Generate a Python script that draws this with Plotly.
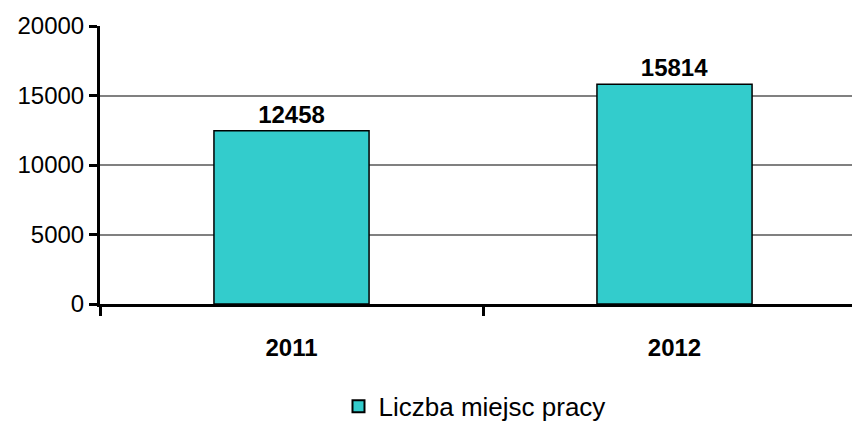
import plotly.graph_objects as go

years = ['2011', '2012']
jobs = [12458, 15814]
series_name = 'Liczba miejsc pracy'
y_ticks = [0, 5000, 10000, 15000, 20000]

fig = go.Figure()
fig.add_trace(go.Bar(
    x=years, y=jobs, name=series_name,
    marker=dict(color='#33CCCC', line=dict(color='black', width=1.5)),
    width=0.405,
    text=[str(v) for v in jobs], textposition='outside',
    textfont=dict(family='Liberation Sans, Arial', size=24, color='black', weight='bold'),
    cliponaxis=False,
))

fig.update_layout(
    width=852, height=421,
    margin=dict(l=100, r=0, t=26, b=117, autoexpand=False),
    plot_bgcolor='white', paper_bgcolor='white',
    font=dict(family='Liberation Sans, Arial', size=24, color='black'),
    showlegend=True,
    legend=dict(orientation='h', x=0.498, xanchor='center', y=-0.368, yanchor='middle',
                font=dict(size=26), itemsizing='constant', itemwidth=30),
    bargap=0.595,
)
fig.update_xaxes(
    type='category', range=[-0.5, 1.4634], automargin=False,
    showline=True, linecolor='black', linewidth=3,
    ticks='outside', tickson='boundaries', ticklen=9, tickwidth=3, tickcolor='black',
    tickfont=dict(size=24, weight='bold'), ticklabelstandoff=20,
    showgrid=False,
)
fig.update_yaxes(
    range=[0, 20000], tickvals=y_ticks, tickformat='d', automargin=False,
    showline=True, linecolor='black', linewidth=3,
    ticks='outside', ticklen=8, tickwidth=3, tickcolor='black',
    showgrid=True, gridcolor='#808080', gridwidth=1.5,
    zeroline=False, tickfont=dict(size=24),
)

# drop the browser's default body margin so the figure sits at the window corner
fig.write_html("out.html", config={'displayModeBar': False},
               post_script="document.body.style.margin='0';")
